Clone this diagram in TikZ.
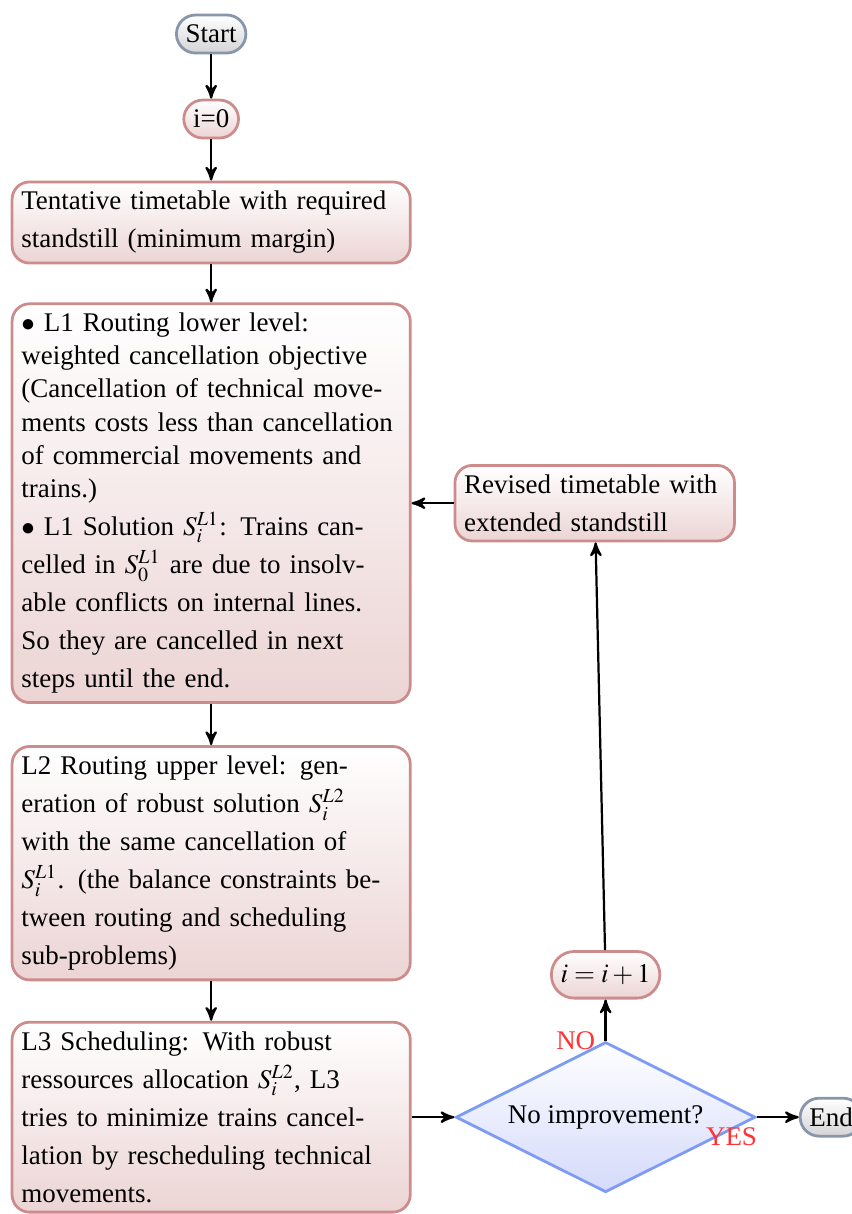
\documentclass[tikz,border=0pt]{standalone}
\usepackage{mathptmx}
\usepackage{fontspec}
\setmainfont{Liberation Serif}
\usetikzlibrary{arrows,shapes,positioning,calc}

\definecolor{boxline}{RGB}{205,140,140}
\definecolor{boxfill}{RGB}{236,212,212}
\definecolor{termline}{RGB}{135,150,170}
\definecolor{termfill}{RGB}{212,212,214}
\definecolor{decline}{RGB}{125,155,245}
\definecolor{decfill}{RGB}{212,218,250}

\tikzset{
  every node/.style={font=\fontsize{9.7}{13.7}\selectfont},
  terminal/.style={draw=termline, line width=1pt, rounded corners=2.4mm,
    top color=white, bottom color=termfill, minimum height=0.48cm},
  counter/.style={draw=boxline, line width=1pt, rounded corners=2.4mm,
    top color=white, bottom color=boxfill, minimum height=0.48cm},
  process/.style={draw=boxline, line width=1pt, rounded corners=2.2mm,
    top color=white, bottom color=boxfill, text width=4.8cm},
  decision/.style={diamond, aspect=2, draw=decline, line width=1pt,
    top color=white, bottom color=decfill, inner sep=0pt,
    minimum width=3.79cm, minimum height=1.9cm},
  flow/.style={thick,-stealth'},
  answer/.style={text=red!80!white}
}

\begin{document}
\begin{tikzpicture}

    \useasboundingbox (0,0) rectangle (10.77,-15.35);

    % main column
    \node[terminal] (start) at (2.67,-0.43) {Start};
    \node[counter, below=0.56cm of start] (i0) {i=0};
    \node[process, below=0.52cm of i0] (tent)
    {Tentative timetable with required\linebreak standstill (minimum margin)};
    \node[process, below=0.48cm of tent] (lone)
    {{\fontsize{9.7}{11.9}\selectfont\noindent
     $\bullet$ L1 Routing lower level:\newline
     weighted cancellation objective\newline
     (Cancellation of technical move-\linebreak
     ments costs less than cancellation\linebreak
     of commercial movements and\newline
     trains.)\par}
     \noindent $\bullet$ L1 Solution $S_i^{L1}$: Trains can-\linebreak
     celled in $S_0^{L1}$ are due to insolv-\linebreak
     able conflicts on internal lines.\linebreak
     So they are cancelled in next\newline
     steps until the end.};
    \node[process, below=0.52cm of lone] (ltwo)
    {L2 Routing upper level: gen-\linebreak
     eration of robust solution $S_i^{L2}$\linebreak
     with the same cancellation of\newline
     $S_i^{L1}$. (the balance constraints be-\linebreak
     tween routing and scheduling\newline
     sub-problems)};
    \node[process, below=0.5cm of ltwo] (lthree)
    {L3 Scheduling: With robust\newline
     ressources allocation $S_i^{L2}$, L3\newline
     tries to minimize trains cancel-\linebreak
     lation by rescheduling technical\linebreak
     movements.};

    % loop
    \node[decision, right=0.54cm of lthree] (dec) {No improvement?};
    \node[terminal, right=0.53cm of dec] (end) {End};
    \node[counter, rounded corners=2.9mm, minimum height=0.59cm,
      above=0.52cm of dec] (inc) {$i=i+1$};
    \node[process, text width=3.3cm, right=0.53cm of lone] (rev)
    {Revised timetable with\linebreak extended standstill};

    % arrows
    \draw[flow] (start) -- (i0);
    \draw[flow] (i0) -- (tent);
    \draw[flow] (tent) -- (lone);
    \draw[flow] (lone) -- (ltwo);
    \draw[flow] (ltwo) -- (lthree);
    \draw[flow] (lthree) -- (dec);
    \draw[flow] (dec) -- node[near start, below left, answer] {YES} (end);
    \draw[flow] (dec) -- node[pos=0, left, answer] {NO} (inc);
    \draw[flow] (inc) -- (rev);
    \draw[flow] (rev) -- (lone);

\end{tikzpicture}
\end{document}
